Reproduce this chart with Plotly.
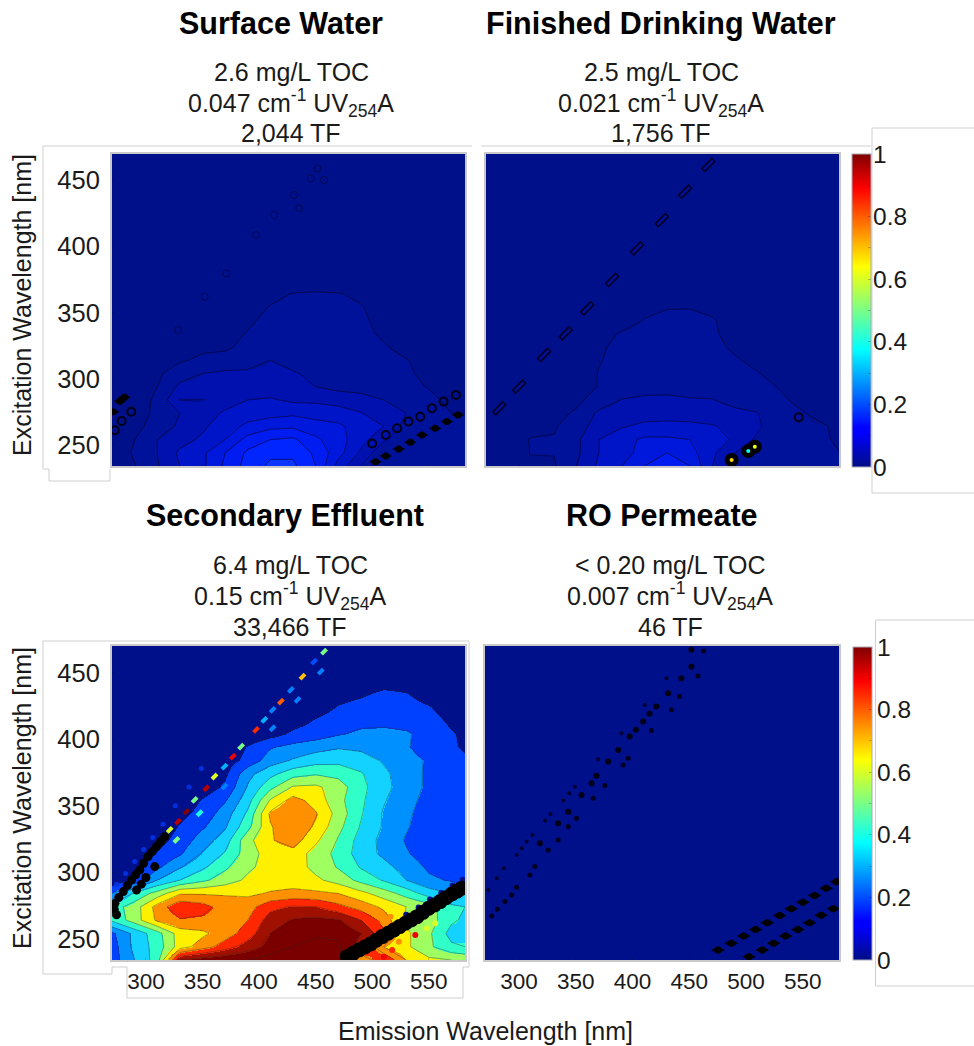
import plotly.graph_objects as go

# ---------- data ----------
emission_nm = [270,290,310,330,350,370,390,410,430,450,470,490,510,530,550,570,582]
excitation_nm = [234,244,254,264,274,284,294,304,314,324,334,344,354,364,374,384,394,404,414,424,434,444,459,470]

surface_water = [
 [.010,.024,.048,.075,.095,.130,.160,.180,.180,.150,.090,.050,.030,.035,.030,.030,.030],
 [.010,.028,.050,.080,.095,.125,.155,.170,.170,.145,.110,.070,.030,.030,.030,.030,.030],
 [.010,.025,.050,.065,.080,.100,.135,.150,.155,.130,.110,.085,.055,.030,.030,.030,.030],
 [.010,.018,.035,.055,.070,.090,.105,.118,.120,.110,.105,.088,.075,.040,.030,.030,.030],
 [.010,.015,.030,.050,.065,.078,.090,.090,.095,.090,.085,.076,.062,.050,.030,.025,.025],
 [.010,.012,.030,.076,.076,.065,.075,.078,.070,.070,.066,.060,.050,.040,.030,.020,.020],
 [.010,.010,.025,.055,.055,.055,.055,.060,.060,.050,.042,.040,.035,.030,.024,.020,.020],
 [.005,.008,.020,.040,.050,.055,.056,.056,.052,.045,.040,.036,.032,.028,.020,.015,.012],
 [.000,.005,.012,.022,.030,.032,.035,.050,.042,.040,.038,.034,.030,.026,.018,.012,.010],
 [.000,.000,.008,.015,.020,.022,.030,.035,.038,.038,.035,.032,.027,.018,.012,.010,.010],
 [.000,.000,.005,.010,.015,.020,.026,.032,.035,.036,.034,.030,.022,.015,.010,.010,.010],
 [.000,.000,.005,.010,.012,.016,.022,.030,.033,.034,.033,.028,.020,.012,.010,.008,.008],
 [.000,.000,.003,.006,.010,.012,.018,.026,.030,.032,.030,.026,.018,.012,.008,.008,.008],
 [.000,.000,.002,.005,.008,.010,.015,.020,.026,.027,.026,.022,.015,.010,.008,.008,.008],
 [.000,.000,.002,.004,.006,.008,.010,.012,.014,.016,.015,.012,.010,.008,.007,.007,.007],
 [.000,.000,.001,.003,.005,.006,.008,.008,.009,.010,.010,.009,.008,.007,.006,.006,.006],
 [.000,.000,.001,.002,.004,.005,.006,.006,.007,.008,.008,.007,.006,.006,.005,.005,.005],
 [.000,.000,.000,.002,.003,.004,.005,.005,.006,.006,.006,.006,.005,.005,.004,.004,.004],
 [.000,.000,.000,.001,.002,.003,.004,.004,.004,.005,.005,.005,.004,.004,.004,.003,.003],
 [.000,.000,.000,.000,.001,.002,.003,.003,.003,.004,.004,.004,.004,.003,.003,.003,.003],
 [.000,.000,.000,.000,.001,.001,.002,.002,.003,.003,.003,.003,.003,.003,.002,.002,.002],
 [.000,.000,.000,.000,.000,.001,.001,.002,.002,.002,.002,.002,.002,.002,.002,.002,.002],
 [.000,.000,.000,.000,.000,.000,.001,.001,.001,.001,.001,.001,.001,.001,.001,.001,.001],
 [.000,.000,.000,.000,.000,.000,.000,.000,.001,.001,.001,.001,.001,.001,.001,.001,.001],
]

finished_water = [
 [.010,.012,.020,.022,.050,.080,.100,.125,.140,.125,.075,.040,.030,.030,.035,.030,.026],
 [.010,.012,.026,.026,.045,.075,.090,.110,.125,.110,.080,.050,.030,.028,.030,.030,.026],
 [.010,.010,.027,.027,.045,.075,.090,.105,.105,.100,.090,.070,.045,.026,.030,.028,.020],
 [.005,.008,.015,.022,.040,.060,.073,.080,.080,.080,.077,.068,.055,.028,.026,.026,.020],
 [.005,.005,.010,.018,.028,.055,.060,.065,.068,.065,.062,.057,.051,.030,.026,.018,.015],
 [.000,.004,.008,.012,.020,.035,.051,.055,.055,.052,.051,.040,.035,.028,.020,.012,.010],
 [.000,.000,.006,.010,.016,.026,.034,.040,.042,.040,.038,.034,.030,.024,.012,.010,.010],
 [.000,.000,.005,.009,.014,.026,.032,.036,.038,.036,.034,.030,.026,.018,.010,.008,.008],
 [.000,.000,.004,.008,.012,.024,.030,.034,.036,.034,.032,.027,.020,.012,.008,.008,.008],
 [.000,.000,.003,.006,.010,.023,.029,.033,.035,.034,.030,.022,.015,.010,.008,.007,.007],
 [.000,.000,.000,.005,.008,.018,.027,.032,.034,.033,.028,.018,.012,.008,.006,.006,.006],
 [.000,.000,.000,.004,.006,.010,.016,.026,.030,.032,.027,.016,.010,.008,.005,.005,.005],
 [.000,.000,.000,.000,.005,.008,.012,.020,.024,.024,.020,.014,.008,.006,.005,.005,.005],
 [.000,.000,.000,.000,.004,.006,.009,.012,.014,.015,.013,.010,.007,.005,.004,.004,.004],
 [.000,.000,.000,.000,.003,.005,.007,.009,.010,.010,.009,.008,.006,.005,.004,.004,.004],
 [.000,.000,.000,.000,.002,.004,.005,.006,.007,.008,.007,.006,.005,.004,.003,.003,.003],
 [.000,.000,.000,.000,.001,.003,.004,.005,.006,.006,.006,.005,.004,.004,.003,.003,.003],
 [.000,.000,.000,.000,.001,.002,.003,.004,.005,.005,.005,.004,.004,.003,.003,.003,.003],
 [.000,.000,.000,.000,.000,.001,.002,.003,.004,.004,.004,.004,.003,.003,.002,.002,.002],
 [.000,.000,.000,.000,.000,.001,.002,.002,.003,.003,.003,.003,.003,.002,.002,.002,.002],
 [.000,.000,.000,.000,.000,.000,.001,.002,.002,.002,.002,.002,.002,.002,.002,.002,.002],
 [.000,.000,.000,.000,.000,.000,.001,.001,.001,.002,.002,.002,.002,.002,.001,.001,.001],
 [.000,.000,.000,.000,.000,.000,.000,.001,.001,.001,.001,.001,.001,.001,.001,.001,.001],
 [.000,.000,.000,.000,.000,.000,.000,.000,.001,.001,.001,.001,.001,.001,.001,.001,.001],
]

secondary_effluent = [
 [.15,.30,.45,1.0,1.05,1.08,1.10,1.14,1.18,1.18,1.12,.70,.90,.70,.62,.60,.58],
 [.15,.33,.44,.65,.75,.85,.95,1.04,1.10,1.14,1.12,.95,.70,.62,.52,.42,.40],
 [.18,.33,.46,.65,.68,.75,.85,1.00,1.06,1.08,1.08,1.00,.82,.62,.52,.36,.40],
 [.42,.55,.72,.79,.78,.74,.80,.95,1.01,1.03,1.01,.90,.76,.58,.55,.42,.38],
 [.45,.55,.74,.88,.84,.75,.76,.87,.91,.90,.83,.76,.68,.60,.55,.42,.40],
 [.20,.42,.54,.69,.69,.69,.68,.71,.73,.72,.70,.63,.55,.46,.35,.30,.30],
 [.02,.12,.30,.40,.48,.55,.62,.65,.65,.62,.56,.47,.39,.30,.22,.19,.15],
 [.01,.05,.18,.29,.38,.48,.58,.64,.65,.57,.49,.39,.33,.26,.18,.15,.13],
 [.00,.02,.11,.19,.31,.41,.55,.65,.66,.56,.47,.35,.28,.21,.15,.13,.12],
 [.00,.01,.06,.14,.25,.35,.57,.69,.75,.62,.49,.36,.27,.19,.14,.12,.11],
 [.00,.01,.03,.11,.19,.29,.47,.69,.79,.68,.53,.39,.29,.21,.14,.12,.11],
 [.00,.00,.02,.07,.14,.25,.42,.72,.79,.71,.56,.41,.29,.22,.15,.12,.11],
 [.00,.00,.01,.03,.11,.19,.36,.61,.74,.66,.53,.42,.31,.23,.17,.13,.11],
 [.00,.00,.01,.02,.04,.12,.31,.47,.61,.62,.55,.43,.33,.25,.18,.14,.12],
 [.00,.00,.00,.01,.03,.08,.27,.37,.46,.49,.47,.41,.32,.25,.18,.15,.12],
 [.00,.00,.00,.01,.02,.05,.13,.25,.31,.36,.37,.34,.29,.23,.19,.13,.11],
 [.00,.00,.00,.00,.01,.02,.11,.19,.23,.26,.29,.28,.24,.21,.15,.11,.09],
 [.00,.00,.00,.00,.00,.01,.02,.06,.12,.15,.19,.22,.22,.21,.17,.11,.08],
 [.00,.00,.00,.00,.00,.00,.01,.03,.06,.11,.14,.17,.18,.17,.14,.08,.05],
 [.00,.00,.00,.00,.00,.00,.00,.01,.03,.06,.105,.125,.135,.13,.105,.05,.03],
 [.00,.00,.00,.00,.00,.00,.00,.01,.02,.03,.07,.09,.115,.105,.06,.03,.02],
 [.00,.00,.00,.00,.00,.00,.00,.00,.01,.02,.04,.06,.07,.06,.03,.02,.01],
 [.00,.00,.00,.00,.00,.00,.00,.00,.00,.01,.02,.02,.03,.02,.01,.01,.00],
 [.00,.00,.00,.00,.00,.00,.00,.00,.00,.00,.01,.01,.01,.01,.00,.00,.00],
]

ro_emission_nm = [270, 582]
ro_excitation_nm = [234, 470]
ro_permeate = [[0.0, 0.0], [0.0, 0.0]]

# scatter-line artefacts (emission nm, excitation nm)
sw_filled_x = [503,512,523.5,533.7,544,555.7,566,575.7,271,277,281]
sw_filled_y = [237.3,241.6,246.9,252,257.5,262.5,267.6,272.6,275,283,286]
sw_ring_x = [500,512,522,532,542.5,552.8,563,574,287,278.5,272.6]
sw_ring_y = [251,257.5,262.5,267.6,271.3,277.7,282.7,287.7,275,268,261]
sw_faint_x = [351.8,370.9,328.4,451.6,413.4,397.3,431,445.7,457.4,435.4]
sw_faint_y = [362,379.7,336.9,459,423.9,408.8,439,451.6,450.3,429]

fw_streak_x = [281.7,299.3,321.3,340.4,359.5,381.5,403.5,425.5,446,466.6]
fw_streak_y = [277.6,294,318,334.4,353.3,374.7,398.6,420,441.5,461.7]
fw_hot_x = [487.1,501.8,507.6]
fw_hot_y = [238.6,245.4,248.6]
fw_hot_v = [.68,.38,.62]
fw_ring_x = [546.4]
fw_ring_y = [270.8]

se_band_x = [272.6,276,280,283.6,287.3,291,294.6,298,301.9,305.6,309.3,313,316.6,291.7,296,300,307.8,274,272]
se_band_y = [276.6,281,285.4,290,294.2,298,301.7,306.7,311.7,315.5,319.2,323,326.7,286.6,291,296,304.2,268,272]
se_halo_x = [274,282,290,298,306,315,326,338,349]
se_halo_y = [291,299,308,317,326,336,350,364,378]
se_second_x = [478,483,488.3,493.4,498.5,503.6,508.8,514,519.1,524.2,529.3,534.4,539.6,544.8,549.9,555,560.1,565.2,570.4,575,579.2]
se_second_y = [236.5,239,241.5,243.8,246,248.8,251.6,254.1,256.6,259.1,261.6,264.1,266.6,269.8,272.9,275.4,277.9,280.8,283.6,285.8,287.9]
se_edge_x = [530,541,551,561,571,580]
se_edge_y = [268,273.5,279.5,284.4,290,294.3]
se_dash_x = [321,328.3,335.7,343,353.3,360.6,369.4,376.8,384.1,397.3,404.6,412,419.3,428.1,438.4,448.6,457.4,
             326.9,347.4,369.4,412,434,454.5]
se_dash_y = [331.8,338,345.5,354.3,363.1,371.9,379.4,386.9,394.4,406.9,414.5,422,428.2,437,447,458.3,465.8,
             324.2,344.3,364.3,408.2,429.5,450.8]
se_dash_v = [.6,.95,1,.5,.95,.6,.3,.9,.5,.85,.3,.25,.8,.25,.7,.2,.5,
             .5,.4,.25,.25,.25,.25]
se_speck_x = [517.6,523.5,532.3,538.1,555.7,548.4,510.3,504.4,516.1]
se_speck_y = [241.5,247.8,240.3,252.8,261.6,257.8,236.5,261.6,266.6]
se_speck_v = [.85,.75,.65,.9,.6,.6,.9,.85,.75]

ro_lower_x = [502.7,514.4,524.4,535,545.8,556,566.3,577]
ro_lower_y = [236.5,241.6,246.6,252,257,262,267.6,272.6]
ro_upper_x = [475.4,487.1,498,508.5,518.8,529.7,539.9,550.2,560.5,570.7,580]
ro_upper_y = [241.5,246.6,252,257,262,267.4,272.6,277.4,282.4,287.9,292.9]
ro_main_x = [318.4,334.5,343.4,355.1,363.9,368.3,378.6,387.4,397.6,403,409.4,415,421.1,431.4,443.1,451.9,451.9]
ro_main_y = [321.7,336.8,345.5,358.1,366.8,372.4,383.1,391.9,401.9,407,413.2,419,424.5,434.5,445.8,454.6,467.1]
ro_side1_x = [273,280.3,286.7,297.9,302.3,306.7,312,322.8,327.8,339,344.2,349.2,369.8,390.3,410.8,429.9]
ro_side1_y = [286.6,295.4,302.9,313,318,323,328,338.8,343.8,353.8,359.3,364.3,384.9,404.4,425.7,445.8]
ro_side2_x = [275.9,280.9,287.6,293.5,297.9,309.6,314,325.7,334.5,343.4,350.7,365.4,375.6,391.8,396.2,416.7,434.3,441.6,457.8,462.8]
ro_side2_y = [267.1,272.1,277.9,282.9,288.7,297.9,304.2,316.7,324.2,334.3,340.5,355.6,365.1,380.6,385.6,406.4,422,432,447.5,466.3]

colorbar_ticks = [0,.1,.2,.3,.4,.5,.6,.7,.8,.9,1]
colorbar_labels = ["0","","0.2","","0.4","","0.6","","0.8","","1"]

panel_titles = ["Surface Water","Finished Drinking Water","Secondary Effluent","RO Permeate"]
panel_toc = ["2.6 mg/L TOC","2.5 mg/L TOC","6.4 mg/L TOC","&lt; 0.20 mg/L TOC"]
panel_uva = ["0.047","0.021","0.15","0.007"]
panel_tf = ["2,044 TF","1,756 TF","33,466 TF","46 TF"]

# ---------- layout constants (pixels of the 974x1046 page) ----------
W, H = 974, 1046
FONT = "Liberation Sans"
TXT = "#1a1a1a"
EDGE = "#c9c9c9"
panels = [(112,465,154,466),(486,839,154,466),(112,465,646,960),(485,839,646,960)]
title_xy = [(281,23),(661,23),(285,515),(662,515)]
sub_x = [291,661,290,670]
sub_y = [(72,103,133),(72,103,133),(565,596,627),(565,596,627)]
box_lines = [
 [(43,146),(472,146)], [(43,146),(43,469),(49,469),(49,481),(110,481),(110,469)],
 [(481,146),(871,146)], [(974,128),(872,128),(872,493),(974,493)],
 [(43,641),(469,641),(469,967),(463,967),(463,998),(127,998),(127,967),(112,967),(112,974),(43,974),(43,641)],
 [(974,620),(875.5,620),(875.5,986),(974,986)],
]
JET = [[0,"#000d86"],[.11,"#0000ff"],[.125,"#0000ff"],[.375,"#00ffff"],[.64,"#ffff00"],[.89,"#ff0000"],[1,"#7f0000"]]
EFFLUENT_BANDS = ["#00108a","#0040ff","#0090ff","#14d2ff","#30ffc8","#a0ff60","#fff000","#ff9000","#ff2800","#a01000","#7a0000"]
LOW_BANDS = ["#00108a","#00119a","#0011b0","#0015c8","#0018dc","#001cf0","#0025ff","#0a35ff"]

def band_scale(cols):
    n = len(cols)
    out = []
    for k, col in enumerate(cols):
        out += [[k / n, col], [(k + 0.999) / n if k < n - 1 else 1, col]]
    return out

px = lambda x: x / W
py = lambda y: 1 - y / H

fig = go.Figure()
ann = []

def note(x, y, text, size, bold=False, angle=0, anchor="center"):
    t = f"<b>{text}</b>" if bold else text
    ann.append(dict(x=px(x), y=py(y), xref="paper", yref="paper", text=t, showarrow=False, textangle=angle,
                    xanchor=anchor, yanchor="middle",
                    font=dict(family=FONT, size=size, color="#000000" if bold else TXT)))

def ax_name(i):
    return ("x" if i == 0 else f"x{i+1}", "y" if i == 0 else f"y{i+1}")

def add_contour(i, x, y, z, start, end, size, line_col, cols, zmax):
    xa, ya = ax_name(i)
    fig.add_trace(go.Contour(
        x=x, y=y, z=z, xaxis=xa, yaxis=ya, zmin=0, zmax=zmax, colorscale=band_scale(cols), showscale=False,
        autocontour=False, contours=dict(start=start, end=end, size=size, coloring="heatmap", showlines=True),
        line=dict(color=line_col, width=1, smoothing=0), hoverinfo="skip"))

def add_dots(i, x, y, color="#000000", size=8, symbol="circle", line=None, v=None):
    xa, ya = ax_name(i)
    m = dict(size=size, symbol=symbol, color=color if v is None else v)
    if v is not None:
        m.update(colorscale=JET, cmin=0, cmax=1)
    m["line"] = line if line else dict(width=0)
    fig.add_trace(go.Scatter(x=x, y=y, mode="markers", xaxis=xa, yaxis=ya, marker=m,
                             showlegend=False, hoverinfo="skip"))

def add_colorbar(i, top, bottom, left, label_x):
    xa, ya = ax_name(i)
    fig.add_trace(go.Scatter(
        x=[None, None], y=[None, None], mode="markers", xaxis=xa, yaxis=ya, showlegend=False, hoverinfo="skip",
        marker=dict(color=[0, 1], colorscale=JET, cmin=0, cmax=1, showscale=True,
            colorbar=dict(x=px(left), xanchor="left", xpad=0, ypad=0, y=py(bottom), yanchor="bottom",
                lenmode="pixels", len=bottom-top, thicknessmode="pixels", thickness=19,
                tickmode="array", tickvals=colorbar_ticks, showticklabels=False,
                ticks="inside", ticklen=3, tickwidth=1, tickcolor="rgba(0,0,0,0.25)",
                outlinecolor="#a9a9b5", outlinewidth=1, borderwidth=0))))
    for tv, tl in zip(colorbar_ticks, colorbar_labels):
        if tl:
            note(label_x, bottom - (bottom - top) * tv, tl, 24.5, anchor="left")

# surface water
add_contour(0, emission_nm, excitation_nm, surface_water, .025, .175, .025, "rgba(0,0,30,0.55)", LOW_BANDS, .2)
add_dots(0, sw_faint_x, sw_faint_y, color="rgba(0,0,0,0)", size=7, line=dict(color="rgba(0,0,40,0.55)", width=1))
add_dots(0, sw_filled_x, sw_filled_y, size=9, symbol="diamond-wide")
add_dots(0, sw_filled_x, sw_filled_y, size=7)
add_dots(0, sw_ring_x, sw_ring_y, color="rgba(0,0,0,0)", size=8, line=dict(color="#000018", width=2))
# finished drinking water
add_contour(1, emission_nm, excitation_nm, finished_water, .025, .175, .025, "rgba(0,0,30,0.55)", LOW_BANDS, .2)
add_dots(1, fw_streak_x, fw_streak_y, symbol="line-ne", size=11, line=dict(color="#00002a", width=6))
add_dots(1, fw_streak_x, fw_streak_y, symbol="line-ne", size=9, line=dict(color="#001196", width=2.5))
add_dots(1, fw_ring_x, fw_ring_y, color="rgba(0,0,0,0)", size=8, line=dict(color="#000018", width=2))
add_dots(1, fw_hot_x, fw_hot_y, size=14)
add_dots(1, fw_hot_x, fw_hot_y, size=4, v=fw_hot_v)
add_colorbar(1, 154, 467, 851.5, 871)
# secondary effluent
add_contour(2, emission_nm, excitation_nm, secondary_effluent, .1, 1.1, .1, "rgba(40,40,40,0.4)", EFFLUENT_BANDS, 1.1)
add_dots(2, se_halo_x, se_halo_y, size=5, color="#0030e0")
add_dots(2, se_edge_x, se_edge_y, size=6, color="#001090")
add_dots(2, se_band_x, se_band_y, size=9)
add_dots(2, se_second_x, se_second_y, size=15)
add_dots(2, se_dash_x, se_dash_y, symbol="line-ne", size=5,
         line=dict(color=se_dash_v, colorscale=JET, cmin=0, cmax=1, width=4))
add_dots(2, se_speck_x, se_speck_y, size=6, v=se_speck_v)
# RO permeate
add_contour(3, ro_emission_nm, ro_excitation_nm, ro_permeate, .1, 1.0, .1, "rgba(0,0,0,0)", EFFLUENT_BANDS, 1.1)
for xs, ys in ((ro_lower_x, ro_lower_y), (ro_upper_x, ro_upper_y)):
    add_dots(3, xs, ys, size=10, symbol="diamond-wide")
    add_dots(3, xs, ys, size=7)
add_dots(3, ro_main_x, ro_main_y, size=6, color="#000018")
add_dots(3, ro_side1_x, ro_side1_y, size=4, color="#000030")
add_dots(3, ro_side2_x, ro_side2_y, size=5, color="#000020")
add_colorbar(3, 647, 960, 853, 875)

layout = dict(width=W, height=H, margin=dict(l=0, r=0, t=0, b=0), paper_bgcolor="white",
              plot_bgcolor="#00108a", showlegend=False)
for i, (l, r, t, b) in enumerate(panels):
    suffix = "" if i == 0 else str(i + 1)
    common = dict(showgrid=False, zeroline=False, showline=True, mirror=True, linecolor=EDGE, linewidth=2,
                  ticks="inside", ticklen=2, tickcolor="rgba(0,0,0,0.2)", tickwidth=1)
    layout[f"xaxis{suffix}"] = dict(domain=[px(l), px(r)], range=[270, 582], anchor=f"y{suffix}",
        tickvals=[300,350,400,450,500,550], showticklabels=i >= 2, ticklabelstandoff=0,
        tickfont=dict(family=FONT, size=22.5, color=TXT), **common)
    layout[f"yaxis{suffix}"] = dict(domain=[py(b), py(t)], range=[234, 470], anchor=f"x{suffix}",
        tickvals=[250,300,350,400,450], showticklabels=i % 2 == 0, ticklabelstandoff=5,
        tickfont=dict(family=FONT, size=25.5, color=TXT), **common)

for i in range(4):
    note(title_xy[i][0], title_xy[i][1], panel_titles[i], 30.5, bold=True)
    note(sub_x[i], sub_y[i][0], panel_toc[i], 25)
    note(sub_x[i], sub_y[i][1], f"{panel_uva[i]} cm<sup>-1</sup> UV<sub>254</sub>A", 25)
    note(sub_x[i], sub_y[i][2], panel_tf[i], 25)
note(22, 305, "Excitation Wavelength [nm]", 25, angle=-90)
note(22, 798, "Excitation Wavelength [nm]", 25, angle=-90)
note(485, 1031, "Emission Wavelength [nm]", 25)

shapes = []
for pts in box_lines:
    path = "M " + " L ".join(f"{px(a)} {py(b)}" for a, b in pts)
    shapes.append(dict(type="path", path=path, xref="paper", yref="paper", layer="below",
                       line=dict(color="#cfcfcf", width=1)))
layout["annotations"] = ann
layout["shapes"] = shapes
fig.update_layout(**layout)
fig.write_html("out.html", config={"displayModeBar": False},
               post_script="document.body.style.margin='0';document.documentElement.style.overflow='hidden';")
